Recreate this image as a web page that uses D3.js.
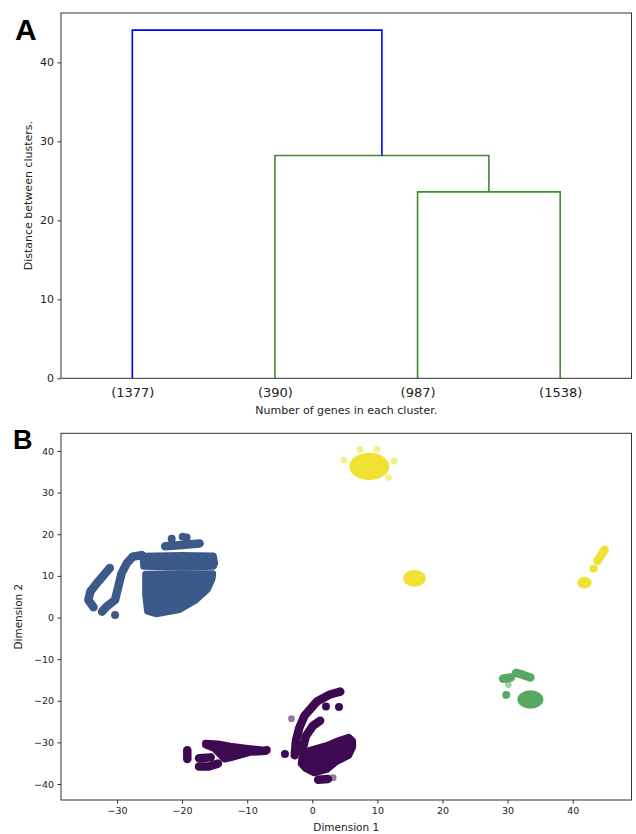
<!DOCTYPE html>
<html>
<head>
<meta charset="utf-8">
<script src="https://cdn.jsdelivr.net/npm/d3@7"></script>
<style>
  body { margin: 0; background: #fff; }
  text { font-family: "DejaVu Sans", sans-serif; fill: #222; }
  .letter { font-family: "Liberation Sans", Arial, sans-serif; font-weight: bold; fill: #000; }
</style>
</head>
<body>
<svg id="fig" width="636" height="834"></svg>
<script>
// ---------- panel A : dendrogram ----------
var leafLabels = ["(1377)", "(390)", "(987)", "(1538)"];
// linkage rows: [child a, child b, distance]; new node ids start at 4
var merges = [[2, 3, 23.6], [1, 4, 28.2], [0, 5, 44.08]];
var mergeColors = ["#3f8a2e", "#3f8a2e", "#0000ff"];
var distTicks = [0, 10, 20, 30, 40];

// ---------- panel B : clusters (data units) ----------
var dimTicksX = [-30, -20, -10, 0, 10, 20, 30, 40];
var dimTicksY = [-40, -30, -20, -10, 0, 10, 20, 30, 40];

// dense runs of points, read as a trace through them
var blueStrands = [
  [[-31.1, 11.9], [-32.9, 8.6], [-34.1, 6.2], [-34.4, 4.2], [-33.6, 2.45]],
  [[-32.3, 1.4], [-31.6, 2.6], [-30.3, 4.2], [-29.8, 7.4], [-29.3, 10.6], [-28.5, 13.0], [-27.6, 14.6], [-26.2, 15.0]],
  [[-22.6, 17.1], [-20.0, 17.4], [-17.3, 17.8]]
];
var blueAreas = [
  [[-26.0, 14.7], [-20.0, 14.9], [-15.2, 14.8], [-15.0, 13.0], [-15.2, 12.3], [-20.0, 12.1], [-25.9, 12.3]],
  [[-25.6, 10.4], [-20.0, 10.5], [-15.3, 10.5], [-15.4, 9.3], [-16.1, 6.8], [-17.9, 4.2], [-20.4, 1.9], [-24.0, 0.9], [-25.3, 1.5], [-25.6, 5.5]]
];
var blueDots = [[-30.3, 0.6], [-21.6, 18.9], [-19.9, 19.4], [-19.3, 19.2]];

var purpleStrands = [
  [[-19.2, -31.9], [-19.2, -34.0]],
  [[-17.4, -33.8], [-15.6, -33.6]],
  [[-17.4, -35.8], [-15.9, -35.8], [-14.5, -35.1]],
  [[-2.7, -33.1], [-2.5, -29.5], [-2.0, -26.5], [-1.2, -23.6], [0.7, -20.2], [2.7, -18.5], [4.3, -17.8]],
  [[-1.6, -32.3], [-1.0, -28.5], [0.1, -26.0], [1.2, -24.8]],
  [[0.9, -39.0], [2.4, -38.8]]
];
var purpleAreas = [
  [[-16.4, -30.2], [-14.5, -30.4], [-12.6, -30.9], [-9.6, -31.5], [-7.3, -31.9], [-7.2, -32.2], [-9.6, -32.4], [-12.6, -33.7], [-13.5, -34.0], [-14.1, -33.0], [-15.1, -31.4], [-16.4, -30.6]],
  [[-1.6, -33.7], [-0.4, -31.9], [2.2, -30.8], [4.2, -29.5], [5.6, -28.8], [6.2, -29.7], [6.2, -31.1], [5.6, -33.1], [3.6, -34.7], [2.2, -36.5], [0.3, -37.3], [-1.0, -36.3], [-1.7, -35.1]]
];
var purpleDots = [[2.1, -21.4], [4.1, -21.5], [-4.2, -32.8], [-7.0, -31.8]];
var purpleFaint = [[-3.2, -24.3], [3.2, -38.5]];

// [cx, cy, rx, ry]
var greenBlobs = [[33.5, -19.7, 2.0, 2.2]];
var greenStrands = [[[31.3, -13.3], [32.4, -13.8], [33.5, -14.4]], [[29.3, -14.7], [30.5, -14.4]]];
var greenDots = [[29.8, -18.6]];
var greenFaint = [[30.1, -16.1]];

var yellowBlobs = [[8.76, 36.3, 3.07, 3.3], [15.7, 9.4, 1.74, 2.0], [41.8, 8.4, 1.12, 1.4], [43.2, 11.7, 0.64, 0.9]];
var yellowStrands = [[[43.8, 13.6], [44.4, 15.0], [44.9, 16.3]]];
var yellowFaint = [[4.87, 37.8], [7.33, 40.4], [9.9, 40.4], [12.55, 37.6], [11.7, 33.65]];

var svg = d3.select("#fig");

// ================= panel A =================
var a = { left: 61, right: 631.5, top: 13, bottom: 378.3 };
var xA = d3.scaleLinear().domain([0, 40]).range([a.left, a.right]);
var yA = d3.scaleLinear().domain([0, 46.25]).range([a.bottom, a.top]);

// node positions from the linkage
var nodeX = leafLabels.map(function(d, i) { return 5 + 10 * i; });
var nodeH = leafLabels.map(function() { return 0; });
var links = [];
merges.forEach(function(m, k) {
  var ca = m[0], cb = m[1], h = m[2];
  links.push({ pts: [[nodeX[ca], nodeH[ca]], [nodeX[ca], h], [nodeX[cb], h], [nodeX[cb], nodeH[cb]]], color: mergeColors[k] });
  nodeX.push((nodeX[ca] + nodeX[cb]) / 2);
  nodeH.push(h);
});

var lineA = d3.line().x(function(d) { return xA(d[0]); }).y(function(d) { return yA(d[1]); });
svg.append("g").selectAll("path")
  .data(links).enter().append("path")
  .attr("d", function(d) { return lineA(d.pts); })
  .attr("fill", "none")
  .attr("stroke", function(d) { return d.color; })
  .attr("stroke-width", 1.6);

var gyA = svg.append("g")
  .attr("transform", "translate(" + a.left + ",0)")
  .call(d3.axisLeft(yA).tickValues(distTicks).tickSize(3.5).tickPadding(3.5).tickFormat(d3.format("d")));
gyA.select(".domain").remove();
gyA.selectAll("text").style("font-size", "11px").attr("fill", "#222");
gyA.selectAll("line").attr("stroke", "#333");

var gxA = svg.append("g")
  .attr("transform", "translate(0," + a.bottom + ")")
  .call(d3.axisBottom(xA).tickValues([5, 15, 25, 35]).tickSize(0).tickPadding(9)
    .tickFormat(function(d, i) { return leafLabels[i]; }));
gxA.select(".domain").remove();
gxA.selectAll("text").style("font-size", "13px").attr("fill", "#222");

svg.append("rect")
  .attr("x", a.left).attr("y", a.top)
  .attr("width", a.right - a.left).attr("height", a.bottom - a.top)
  .attr("fill", "none").attr("stroke", "#333").attr("stroke-width", 1);

svg.append("text")
  .attr("x", (a.left + a.right) / 2).attr("y", 414)
  .attr("text-anchor", "middle").style("font-size", "11px")
  .text("Number of genes in each cluster.");
svg.append("text")
  .attr("transform", "translate(32," + ((a.top + a.bottom) / 2) + ") rotate(-90)")
  .attr("text-anchor", "middle").style("font-size", "11px")
  .text("Distance between clusters.");
svg.append("text").attr("class", "letter")
  .attr("x", 15).attr("y", 40).style("font-size", "30px").text("A");

// ================= panel B =================
var b = { left: 61, right: 631.5, top: 433.3, bottom: 800 };
var xB = d3.scaleLinear().domain([-38.6, 49.03]).range([b.left, b.right]);
var yB = d3.scaleLinear().domain([-43.84, 44.25]).range([b.bottom, b.top]);

var lineB = d3.line().x(function(d) { return xB(d[0]); }).y(function(d) { return yB(d[1]); });
var areaB = d3.line().x(function(d) { return xB(d[0]); }).y(function(d) { return yB(d[1]); }).curve(d3.curveLinearClosed);

var pts = svg.append("g");
function drawCluster(color, strands, areas, blobs, dots, faint) {
  var g = pts.append("g");
  g.selectAll(".area").data(areas).enter().append("path")
    .attr("class", "area")
    .attr("d", areaB)
    .attr("fill", color).attr("stroke", color)
    .attr("stroke-width", 7).attr("stroke-linejoin", "round");
  g.selectAll(".strand").data(strands).enter().append("path")
    .attr("class", "strand")
    .attr("d", lineB)
    .attr("fill", "none").attr("stroke", color)
    .attr("stroke-width", 8.5).attr("stroke-linecap", "round").attr("stroke-linejoin", "round");
  g.selectAll("ellipse").data(blobs).enter().append("ellipse")
    .attr("cx", function(d) { return xB(d[0]); })
    .attr("cy", function(d) { return yB(d[1]); })
    .attr("rx", function(d) { return xB(d[0] + d[2]) - xB(d[0]); })
    .attr("ry", function(d) { return yB(d[1] - d[3]) - yB(d[1]); })
    .attr("fill", color);
  g.selectAll(".dot").data(dots).enter().append("circle")
    .attr("class", "dot")
    .attr("cx", function(d) { return xB(d[0]); })
    .attr("cy", function(d) { return yB(d[1]); })
    .attr("r", 4).attr("fill", color);
  g.selectAll(".faint").data(faint).enter().append("circle")
    .attr("class", "faint")
    .attr("cx", function(d) { return xB(d[0]); })
    .attr("cy", function(d) { return yB(d[1]); })
    .attr("r", 3.4).attr("fill", color).attr("opacity", 0.55);
}
drawCluster("#3d0a52", purpleStrands, purpleAreas, [], purpleDots, purpleFaint);
drawCluster("#3b5a8a", blueStrands, blueAreas, [], blueDots, []);
drawCluster("#57a765", greenStrands, [], greenBlobs, greenDots, greenFaint);
drawCluster("#f0e232", yellowStrands, [], yellowBlobs, [], yellowFaint);

var gyB = svg.append("g")
  .attr("transform", "translate(" + b.left + ",0)")
  .call(d3.axisLeft(yB).tickValues(dimTicksY).tickSize(3.5).tickPadding(3.5));
gyB.select(".domain").remove();
gyB.selectAll("text").style("font-size", "9.5px").attr("fill", "#222");
gyB.selectAll("line").attr("stroke", "#333");

var gxB = svg.append("g")
  .attr("transform", "translate(0," + b.bottom + ")")
  .call(d3.axisBottom(xB).tickValues(dimTicksX).tickSize(3.5).tickPadding(3.5));
gxB.select(".domain").remove();
gxB.selectAll("text").style("font-size", "9.5px").attr("fill", "#222");
gxB.selectAll("line").attr("stroke", "#333");

svg.append("rect")
  .attr("x", b.left).attr("y", b.top)
  .attr("width", b.right - b.left).attr("height", b.bottom - b.top)
  .attr("fill", "none").attr("stroke", "#333").attr("stroke-width", 1);

svg.append("text")
  .attr("x", (b.left + b.right) / 2).attr("y", 831)
  .attr("text-anchor", "middle").style("font-size", "10.5px")
  .text("Dimension 1");
svg.append("text")
  .attr("transform", "translate(22," + ((b.top + b.bottom) / 2) + ") rotate(-90)")
  .attr("text-anchor", "middle").style("font-size", "10.5px")
  .text("Dimension 2");
svg.append("text").attr("class", "letter")
  .attr("x", 13).attr("y", 449).style("font-size", "27px").text("B");
</script>
</body>
</html>
